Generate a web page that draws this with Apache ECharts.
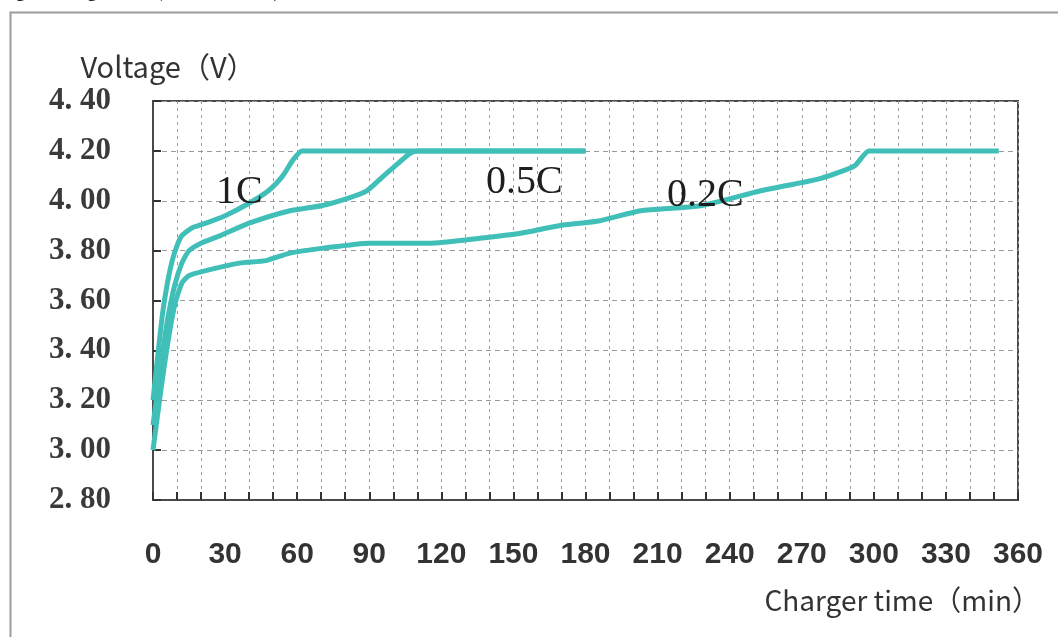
<!DOCTYPE html>
<html style="height: 100%">
<head>
    <meta charset="utf-8">
</head>
<body style="height: 100%; margin: 0; background: #fff">
<div id="container" style="width: 1058px; height: 637px"></div>
<script type="text/javascript" src="https://cdn.jsdelivr.net/npm/echarts@6/dist/echarts.min.js"></script>
<script type="text/javascript">
    // charge curves, time in min / voltage in V
    var time1C = [0, 2, 4, 6, 8, 10, 12, 16, 22, 30, 40, 48, 54, 58, 62, 180];
    var volt1C = [3.20, 3.38, 3.55, 3.67, 3.76, 3.82, 3.86, 3.89, 3.91, 3.94, 3.99, 4.04, 4.10, 4.16, 4.20, 4.20];

    var time05C = [0, 3, 6, 9, 12, 15, 20, 28, 40, 57, 70, 81, 89, 96, 102, 107, 110, 180];
    var volt05C = [3.10, 3.32, 3.52, 3.66, 3.75, 3.80, 3.83, 3.86, 3.91, 3.96, 3.98, 4.01, 4.04, 4.10, 4.15, 4.19, 4.20, 4.20];

    var time02C = [0, 3, 6, 9, 12, 15, 22, 36, 47, 57, 71, 90, 115, 136, 153, 169, 186, 203, 228, 253, 278, 292, 298, 352];
    var volt02C = [3.00, 3.22, 3.42, 3.58, 3.67, 3.70, 3.72, 3.75, 3.76, 3.79, 3.81, 3.83, 3.83, 3.85, 3.87, 3.90, 3.92, 3.96, 3.98, 4.04, 4.09, 4.14, 4.20, 4.20];

    var curveNames = ['1C', '0.5C', '0.2C'];
    var xTicks = [0, 30, 60, 90, 120, 150, 180, 210, 240, 270, 300, 330, 360];
    var yTicks = [2.8, 3.0, 3.2, 3.4, 3.6, 3.8, 4.0, 4.2, 4.4];

    function zip(t, v) {
        var out = [];
        for (var i = 0; i < t.length; i++) {
            out.push([t[i], v[i]]);
        }
        return out;
    }

    var teal = '#40bfb8';
    var dom = document.getElementById("container");
    var myChart = echarts.init(dom);

    function lineSeries(name, data) {
        return {
            name: name,
            type: 'line',
            data: data,
            symbol: 'none',
            smooth: 0.2,
            lineStyle: {color: teal, width: 5},
            z: 5
        };
    }

    var option = {
        backgroundColor: '#fff',
        animation: false,
        grid: {
            left: 153, top: 101, right: 40, bottom: 137,
            show: true, borderColor: '#4a4a4a', borderWidth: 2
        },
        xAxis: {
            type: 'value',
            min: xTicks[0],
            max: xTicks[xTicks.length - 1],
            interval: 30,
            axisLine: {lineStyle: {color: '#4a4a4a', width: 2}},
            axisTick: {inside: true, length: 8, lineStyle: {color: '#333', width: 2}},
            minorTick: {show: true, splitNumber: 3, length: 8, lineStyle: {color: '#333', width: 2}},
            splitLine: {show: true, lineStyle: {color: '#9a9a9a', type: [3, 4], width: 1}},
            minorSplitLine: {show: true, lineStyle: {color: '#9a9a9a', type: [3, 4], width: 1}},
            axisLabel: {
                margin: 40,
                color: '#333',
                fontSize: 30,
                fontWeight: 'bold',
                fontFamily: "'Liberation Sans Narrow', 'Liberation Sans', sans-serif"
            }
        },
        yAxis: {
            type: 'value',
            min: yTicks[0],
            max: yTicks[yTicks.length - 1],
            interval: 0.2,
            name: 'Voltage（V）',
            nameLocation: 'end',
            nameGap: 20,
            nameTextStyle: {
                color: '#333',
                fontSize: 29,
                fontFamily: "'Noto Sans CJK SC', sans-serif",
                align: 'center',
                padding: [0, 0, 0, 30]
            },
            axisLine: {lineStyle: {color: '#4a4a4a', width: 2}},
            axisTick: {inside: true, length: 8, lineStyle: {color: '#333', width: 2}},
            splitLine: {show: true, lineStyle: {color: '#9a9a9a', type: [5, 4], width: 1}},
            axisLabel: {
                margin: 42,
                color: '#3a3a3a',
                fontSize: 31,
                fontWeight: 'bold',
                fontFamily: "'Liberation Serif', 'DejaVu Serif', serif",
                formatter: function (v) {
                    return v.toFixed(2).replace('.', '. ');
                }
            }
        },
        graphic: [
            {
                type: 'rect', left: 8, top: 10, z: -1,
                shape: {width: 1070, height: 640},
                style: {fill: 'none', stroke: '#9c9c9c', lineWidth: 2}
            },
            {
                type: 'text', left: 0, top: -17,
                style: {
                    text: 'Fig. 2 Charge curve (1C, 0.5C, 0.2C)',
                    font: "bold 18px 'Liberation Serif', serif",
                    fill: '#222'
                }
            },
            {
                type: 'text', right: 18, top: 586,
                style: {
                    text: 'Charger time（min）',
                    font: "28px 'Noto Sans CJK SC', sans-serif",
                    fill: '#333'
                }
            },
            {
                type: 'text', left: 216, top: 172, z: 10,
                style: {text: curveNames[0], font: "40px 'Liberation Serif', serif", fill: '#1e1e1e'}
            },
            {
                type: 'text', left: 486, top: 162, z: 10,
                style: {text: curveNames[1], font: "40px 'Liberation Serif', serif", fill: '#1e1e1e'}
            },
            {
                type: 'text', left: 667, top: 175, z: 10,
                style: {text: curveNames[2], font: "40px 'Liberation Serif', serif", fill: '#1e1e1e'}
            }
        ],
        series: [
            lineSeries(curveNames[0], zip(time1C, volt1C)),
            lineSeries(curveNames[1], zip(time05C, volt05C)),
            lineSeries(curveNames[2], zip(time02C, volt02C))
        ]
    };

    myChart.setOption(option);
</script>
</body>
</html>
